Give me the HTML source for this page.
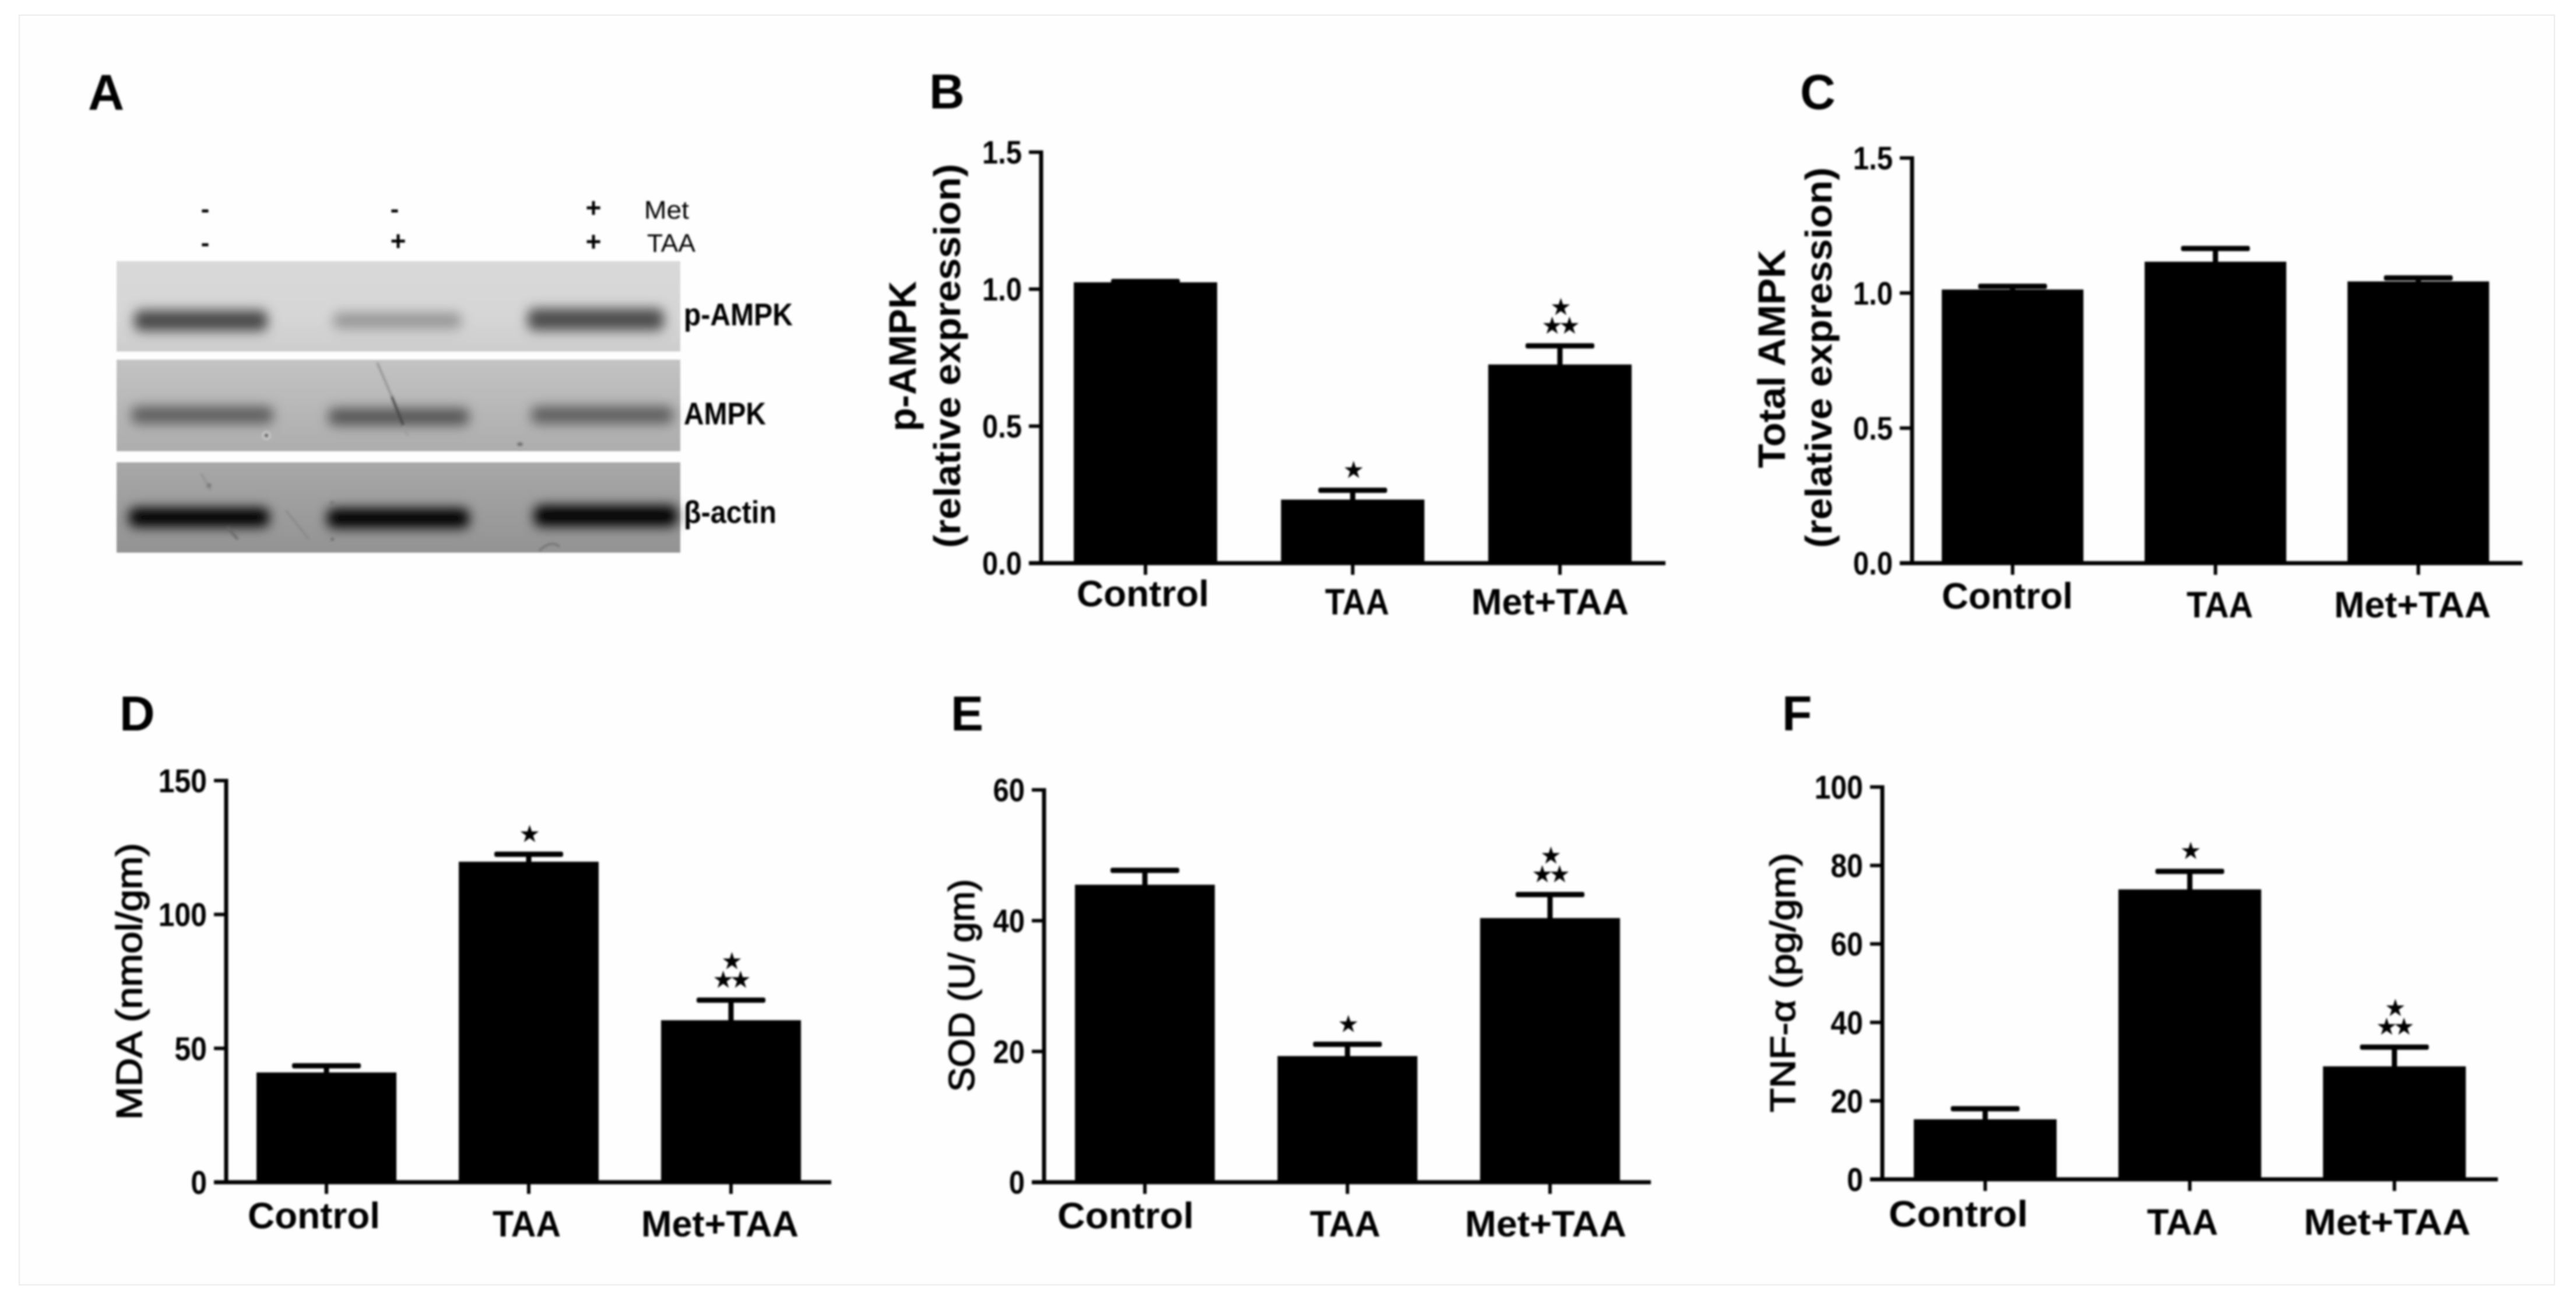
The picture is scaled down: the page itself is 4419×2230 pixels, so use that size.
<!DOCTYPE html>
<html lang="en">
<head>
<meta charset="utf-8">
<title>AMPK western blot and bar charts</title>
<style>
html,body{margin:0;padding:0;background:#fff;width:4419px;height:2230px;overflow:hidden}
svg{display:block}
text{font-family:"Liberation Sans",Arial,sans-serif;fill:#000}
.b{font-weight:bold}
.semi{stroke:#000;stroke-width:1.5px}
</style>
</head>
<body>
<svg id="figure" xmlns="http://www.w3.org/2000/svg" width="4419" height="2230" viewBox="0 0 4419 2230">
  <defs>
    <filter id="soft" x="-2%" y="-2%" width="104%" height="104%"><feGaussianBlur stdDeviation="1.7"/></filter>
    <filter id="band" x="-20%" y="-150%" width="140%" height="400%"><feGaussianBlur stdDeviation="10"/></filter>
    <filter id="fine" x="-20%" y="-20%" width="140%" height="140%"><feGaussianBlur stdDeviation="1.5"/></filter>
    <linearGradient id="blot1" x1="0" y1="0" x2="0" y2="1"><stop offset="0" stop-color="#d9d9d9"/><stop offset="0.6" stop-color="#d6d6d6"/><stop offset="1" stop-color="#cdcdcd"/></linearGradient>
    <linearGradient id="blot2" x1="0" y1="0" x2="0" y2="1"><stop offset="0" stop-color="#c3c3c3"/><stop offset="1" stop-color="#adadad"/></linearGradient>
    <linearGradient id="blot3" x1="0" y1="0" x2="0" y2="1"><stop offset="0" stop-color="#a8a8a8"/><stop offset="1" stop-color="#939393"/></linearGradient>
  </defs>

  <rect x="0" y="0" width="4419" height="2230" fill="#ffffff"/>
  <rect x="33" y="26" width="4349" height="2178" fill="#fefefe" stroke="#efefef" stroke-width="2.5"/>

  <g filter="url(#soft)">
    <rect x="200" y="448" width="967" height="155" fill="url(#blot1)"/>
    <rect x="200" y="617" width="967" height="157" fill="url(#blot2)"/>
    <rect x="200" y="793" width="967" height="155" fill="url(#blot3)"/>

    <g filter="url(#band)">
      <rect x="230" y="532" width="229" height="36" rx="12" fill="#4a4a4a"/>
      <rect x="571" y="536" width="221" height="28" rx="12" fill="#979797"/>
      <rect x="905" y="529" width="234" height="38" rx="12" fill="#4e4e4e"/>
    </g>
    <g filter="url(#band)">
      <rect x="225" y="697" width="244" height="30" rx="12" fill="#5e5e5e"/>
      <rect x="563" y="700" width="242" height="30" rx="12" fill="#565656"/>
      <rect x="911" y="697" width="244" height="30" rx="12" fill="#5e5e5e"/>
    </g>
    <g filter="url(#band)">
      <rect x="221" y="871" width="241" height="33" rx="12" fill="#000000"/>
      <rect x="561" y="872" width="244" height="34" rx="12" fill="#000000"/>
      <rect x="916" y="867" width="246" height="36" rx="12" fill="#000000"/>
    </g>
    <g filter="url(#fine)">
      <line x1="647" y1="622" x2="672" y2="680" stroke="#8a8a8a" stroke-width="3"/>
      <line x1="672" y1="680" x2="692" y2="730" stroke="#444444" stroke-width="4"/>
      <line x1="692" y1="730" x2="700" y2="748" stroke="#9a9a9a" stroke-width="3"/>
      <circle cx="457" cy="747" r="7" fill="#d8d8d8"/>
      <circle cx="457" cy="747" r="4" fill="#555"/>
      <ellipse cx="892" cy="762" rx="5" ry="3" fill="#666"/>
      <circle cx="358" cy="833" r="4" fill="#666"/>
      <line x1="345" y1="812" x2="362" y2="842" stroke="#8a8a8a" stroke-width="2.5"/>
      <line x1="390" y1="905" x2="408" y2="925" stroke="#666" stroke-width="4"/>
      <path d="M925 945 Q945 925 960 938" fill="none" stroke="#6c6c6c" stroke-width="3"/>
      <line x1="490" y1="875" x2="530" y2="925" stroke="#858585" stroke-width="3"/>
      <circle cx="570" cy="863" r="4" fill="#7a7a7a"/>
      <circle cx="570" cy="925" r="3" fill="#6a6a6a"/>
    </g>

    <text class="b" font-size="44" text-anchor="middle" x="352" y="373">-</text>
    <text class="b" font-size="44" text-anchor="middle" x="352" y="431">-</text>
    <text class="b" font-size="44" text-anchor="middle" x="677" y="373">-</text>
    <text class="b" font-size="46" text-anchor="middle" x="683" y="429">+</text>
    <text class="b" font-size="46" text-anchor="middle" x="1018" y="372">+</text>
    <text class="b" font-size="46" text-anchor="middle" x="1018" y="430">+</text>
    <text font-size="44" x="1105" y="375" textLength="77" lengthAdjust="spacingAndGlyphs">Met</text>
    <text font-size="44" x="1110" y="432" textLength="83" lengthAdjust="spacingAndGlyphs">TAA</text>
    <text class="b" font-size="54" x="1173" y="558" textLength="187" lengthAdjust="spacingAndGlyphs">p-AMPK</text>
    <text class="b" font-size="54" x="1173" y="728" textLength="141" lengthAdjust="spacingAndGlyphs">AMPK</text>
    <text class="b" font-size="54" x="1173" y="897" textLength="159" lengthAdjust="spacingAndGlyphs">β-actin</text>
  </g>

  <g filter="url(#soft)">
    <text class="b" font-size="86" x="151" y="188">A</text>
    <text class="b" font-size="84" x="1594" y="186">B</text>
    <text class="b" font-size="84" x="3088" y="187">C</text>
    <text class="b" font-size="84" x="205" y="1253">D</text>
    <text class="b" font-size="84" x="1631" y="1253">E</text>
    <text class="b" font-size="84" x="3057" y="1253">F</text>
  </g>

  <g filter="url(#soft)">
    <text class="b" font-size="66" transform="translate(1571,740) rotate(-90)" textLength="258" lengthAdjust="spacingAndGlyphs">p-AMPK</text>
    <text class="b" font-size="64" transform="translate(1647,940) rotate(-90)" textLength="659" lengthAdjust="spacingAndGlyphs">(relative expression)</text>
    <text class="b" font-size="66" transform="translate(3062,803) rotate(-90)" textLength="375" lengthAdjust="spacingAndGlyphs">Total AMPK</text>
    <text class="b" font-size="64" transform="translate(3142,940) rotate(-90)" textLength="653" lengthAdjust="spacingAndGlyphs">(relative expression)</text>
    <text class="semi" font-size="62" transform="translate(243,1921) rotate(-90)" textLength="475" lengthAdjust="spacingAndGlyphs">MDA (nmol/gm)</text>
    <text class="semi" font-size="62" transform="translate(1671,1873) rotate(-90)" textLength="365" lengthAdjust="spacingAndGlyphs">SOD (U/ gm)</text>
    <text class="semi" font-size="60" transform="translate(3079,1908) rotate(-90)" textLength="445" lengthAdjust="spacingAndGlyphs">TNF-α (pg/gm)</text>
  </g>

  <g id="charts" filter="url(#soft)"></g>
</svg>

<script>
// ---- chart data ----
const categories = ['Control', 'TAA', 'Met+TAA'];

const bMeans = [1.025, 0.232, 0.725];
const bErrors = [0.003, 0.034, 0.068];
const bTicks = ['0.0', '0.5', '1.0', '1.5'];
const bSignificance = [0, 1, 2];

const cMeans = [1.013, 1.116, 1.043];
const cErrors = [0.012, 0.049, 0.013];
const cTicks = ['0.0', '0.5', '1.0', '1.5'];
const cSignificance = [0, 0, 0];

const dMeans = [41, 119.7, 60.5];
const dErrors = [2.5, 2.8, 7.5];
const dTicks = ['0', '50', '100', '150'];
const dSignificance = [0, 1, 2];

const eMeans = [45.5, 19.3, 40.4];
const eErrors = [2.2, 1.8, 3.6];
const eTicks = ['0', '20', '40', '60'];
const eSignificance = [0, 1, 2];

const fMeans = [15.3, 73.9, 28.8];
const fErrors = [2.7, 4.6, 4.9];
const fTicks = ['0', '20', '40', '60', '80', '100'];
const fSignificance = [0, 1, 2];

// ---- panel layout (geometry only) ----
const SVG_NS = 'http://www.w3.org/2000/svg';
const chartsRoot = document.getElementById('charts');

const layouts = [
  {id: 'b', means: bMeans, errors: bErrors, ticks: bTicks, sig: bSignificance, axisX: 1786, right: 2857, y0: 966, yTop: 261,
   barLeft: 1842, barStep: 355.5, barWidth: 246, tickFont: 49,
   labelStart: [1847, 2273, 2524], labelWidth: [227, 110, 270], labelBase: [1040, 1054, 1054]},
  {id: 'c', means: cMeans, errors: cErrors, ticks: cTicks, sig: cSignificance, axisX: 3280, right: 4327, y0: 966, yTop: 271,
   barLeft: 3331, barStep: 348, barWidth: 243, tickFont: 49,
   labelStart: [3331, 3751, 4004], labelWidth: [225, 114, 269], labelBase: [1044, 1059, 1059]},
  {id: 'd', means: dMeans, errors: dErrors, ticks: dTicks, sig: dSignificance, axisX: 388, right: 1426, y0: 2028, yTop: 1339,
   barLeft: 440, barStep: 347, barWidth: 240, tickFont: 50,
   labelStart: [425, 845, 1100], labelWidth: [227, 117, 270], labelBase: [2107, 2121, 2121]},
  {id: 'e', means: eMeans, errors: eErrors, ticks: eTicks, sig: eSignificance, axisX: 1791, right: 2832, y0: 2028, yTop: 1355,
   barLeft: 1844, barStep: 347.5, barWidth: 240, tickFont: 49,
   labelStart: [1814, 2247, 2513], labelWidth: [234, 121, 277], labelBase: [2107, 2121, 2121]},
  {id: 'f', means: fMeans, errors: fErrors, ticks: fTicks, sig: fSignificance, axisX: 3229, right: 4285, y0: 2023, yTop: 1350,
   barLeft: 3283, barStep: 351, barWidth: 245, tickFont: 50,
   labelStart: [3240, 3683, 3952], labelWidth: [239, 122, 286], labelBase: [2104, 2118, 2118]}
];

function rect(parent, x, y, w, h) {
  const r = document.createElementNS(SVG_NS, 'rect');
  r.setAttribute('x', x);
  r.setAttribute('y', y);
  r.setAttribute('width', w);
  r.setAttribute('height', h);
  r.setAttribute('fill', '#000');
  parent.appendChild(r);
  return r;
}

function label(parent, content, x, y, size, anchor, bold) {
  const t = document.createElementNS(SVG_NS, 'text');
  t.setAttribute('x', x);
  t.setAttribute('y', y);
  t.setAttribute('font-size', size);
  t.setAttribute('text-anchor', anchor);
  if (bold) t.setAttribute('font-weight', 'bold');
  t.textContent = content;
  parent.appendChild(t);
  return t;
}

function starText(parent, content, x, centerY) {
  const t = label(parent, content, x, centerY + 15, 41, 'middle', false);
  t.setAttribute('style', 'font-family:"DejaVu Sans",sans-serif');
  t.setAttribute('letter-spacing', '-7');
  return t;
}

function tickWidth(text, size) {
  let w = 0;
  for (const ch of text) w += ch === '.' ? 0.278 : 0.556;
  return w * size;
}

layouts.forEach(function (p) {
  const maxValue = parseFloat(p.ticks[p.ticks.length - 1]);
  const yScale = function (v) { return p.y0 - (v / maxValue) * (p.y0 - p.yTop); };
  const xLeft = function (i) { return p.barLeft + i * p.barStep; };
  const xCenter = function (i) { return xLeft(i) + p.barWidth / 2; };

  const g = document.createElementNS(SVG_NS, 'g');
  
  
  chartsRoot.appendChild(g);

  p.means.forEach(function (mean, i) {
    const top = yScale(mean);
    const errTop = yScale(mean + p.errors[i]);

    const bar = rect(g, xLeft(i), top, p.barWidth, p.y0 - top);
    
    

    const stem = rect(g, xCenter(i) - 4.5, errTop, 9, top - errTop + 2);
    
    

    const cap = rect(g, xCenter(i) - 59, errTop - 4.5, 118, 9);
    cap.setAttribute('rx', '3');
    
    

    if (p.sig[i] === 1) {
      const star = starText(g, '★', xCenter(i) - 2, errTop - 36);
      
      
    }
    if (p.sig[i] === 2) {
      const upper = starText(g, '★', xCenter(i) - 2, errTop - 68);
      
      
      const lower = starText(g, '★★', xCenter(i) - 2, errTop - 36);
      
      
    }

    const xTick = rect(g, xCenter(i) - 3, p.y0, 6, 20);
    
    

    const cat = label(g, categories[i], p.labelStart[i], p.labelBase[i], 63, 'start', true);
    cat.setAttribute('textLength', p.labelWidth[i]);
    cat.setAttribute('lengthAdjust', 'spacingAndGlyphs');
    
    
  });

  const yAxis = rect(g, p.axisX - 3.5, p.yTop - 3, 7, p.y0 - p.yTop + 6);
  
  

  const xAxis = rect(g, p.axisX - 21, p.y0 - 3.5, p.right - p.axisX + 21, 7);
  
  

  p.ticks.forEach(function (tickText) {
    const y = yScale(parseFloat(tickText));
    const tick = rect(g, p.axisX - 21, y - 3, 21, 6);
    
    

    const tickLabel = label(g, tickText, p.axisX - 33, y + 0.4 * p.tickFont, p.tickFont * 1.13, 'end', true);
    tickLabel.setAttribute('textLength', tickWidth(tickText, p.tickFont));
    tickLabel.setAttribute('lengthAdjust', 'spacingAndGlyphs');
    
    
  });
});
</script>
</body>
</html>
